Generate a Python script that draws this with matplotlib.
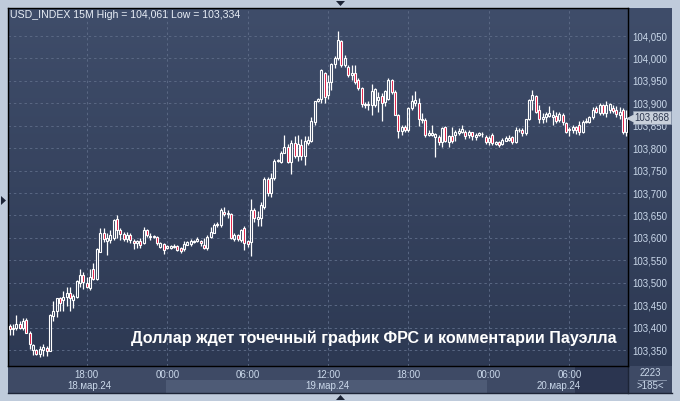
import numpy as np
import matplotlib.pyplot as plt
from matplotlib.colors import LinearSegmentedColormap
from matplotlib.patches import Rectangle, Polygon
from matplotlib.lines import Line2D
from matplotlib.transforms import blended_transform_factory

plt.rcParams['font.family'] = ['Liberation Sans', 'DejaVu Sans']

# 15M candles, USD_INDEX, 18.03 12:15 -> 20.03 10:15
opens = [
    103.404, 103.397, 103.400, 103.409, 103.400, 103.418, 103.389, 103.350, 103.349, 103.342,
    103.349, 103.354, 103.348, 103.426, 103.437, 103.467, 103.461, 103.469, 103.478, 103.461,
    103.469, 103.499, 103.518, 103.499, 103.488, 103.531, 103.508, 103.568, 103.610, 103.593,
    103.595, 103.599, 103.643, 103.617, 103.608, 103.598, 103.606, 103.593, 103.588, 103.594,
    103.588, 103.617, 103.601, 103.604, 103.601, 103.580, 103.586, 103.578, 103.578, 103.581,
    103.581, 103.578, 103.575, 103.585, 103.586, 103.590, 103.592, 103.593, 103.585, 103.578, 103.603,
    103.610, 103.632, 103.629, 103.658, 103.653, 103.653, 103.597, 103.606, 103.595, 103.621,
    103.593, 103.590, 103.663, 103.643, 103.644, 103.668, 103.731, 103.699, 103.733, 103.772,
    103.770, 103.790, 103.802, 103.770, 103.812, 103.782, 103.807, 103.782, 103.812, 103.816,
    103.859, 103.905, 103.910, 103.967, 103.918, 103.948, 103.987, 104.000, 104.039, 103.985,
    103.982, 103.963, 103.967, 103.952, 103.933, 103.899, 103.896, 103.896, 103.896, 103.908,
    103.917, 103.902, 103.910, 103.952, 103.926, 103.875, 103.838, 103.848, 103.840, 103.889,
    103.900, 103.900, 103.862, 103.863, 103.829, 103.830, 103.824, 103.824, 103.814, 103.848,
    103.814, 103.826, 103.830, 103.834, 103.837, 103.837, 103.829, 103.835, 103.824, 103.829,
    103.831, 103.824, 103.814, 103.829, 103.810, 103.813, 103.809, 103.817, 103.818, 103.824,
    103.814, 103.840, 103.841, 103.833, 103.864, 103.907, 103.916, 103.885, 103.866, 103.870,
    103.872, 103.870, 103.872, 103.863, 103.874, 103.857, 103.840, 103.840, 103.848, 103.852,
    103.837, 103.859, 103.859, 103.869, 103.889, 103.878, 103.896, 103.878, 103.885, 103.889,
    103.886, 103.874, 103.885, 103.837,
]
highs = [
    103.409, 103.408, 103.428, 103.415, 103.421, 103.421, 103.392, 103.363, 103.352, 103.359,
    103.363, 103.359, 103.431, 103.460, 103.467, 103.469, 103.481, 103.490, 103.491, 103.475,
    103.505, 103.531, 103.525, 103.512, 103.531, 103.545, 103.578, 103.622, 103.622, 103.611,
    103.617, 103.643, 103.651, 103.622, 103.614, 103.612, 103.610, 103.598, 103.595, 103.600,
    103.624, 103.620, 103.610, 103.606, 103.604, 103.590, 103.588, 103.583, 103.584, 103.586,
    103.585, 103.580, 103.594, 103.593, 103.598, 103.596, 103.603, 103.596, 103.600, 103.606, 103.625,
    103.633, 103.636, 103.666, 103.668, 103.662, 103.655, 103.610, 103.608, 103.620, 103.626,
    103.596, 103.686, 103.667, 103.660, 103.680, 103.735, 103.735, 103.745, 103.775, 103.776,
    103.794, 103.830, 103.810, 103.818, 103.828, 103.830, 103.820, 103.828, 103.826, 103.870,
    103.905, 103.912, 103.976, 103.970, 103.962, 103.989, 104.006, 104.061, 104.041, 104.008,
    103.985, 103.985, 103.985, 103.957, 103.937, 103.903, 103.905, 103.944, 103.935, 103.926,
    103.922, 103.930, 103.956, 103.955, 103.929, 103.877, 103.852, 103.852, 103.892, 103.918,
    103.928, 103.912, 103.878, 103.868, 103.840, 103.851, 103.833, 103.830, 103.848, 103.850,
    103.830, 103.848, 103.841, 103.844, 103.851, 103.840, 103.840, 103.837, 103.833, 103.835,
    103.837, 103.830, 103.826, 103.833, 103.816, 103.816, 103.822, 103.826, 103.829, 103.828,
    103.848, 103.845, 103.845, 103.866, 103.910, 103.930, 103.918, 103.896, 103.878, 103.881,
    103.894, 103.884, 103.881, 103.881, 103.878, 103.859, 103.848, 103.852, 103.850, 103.860,
    103.863, 103.868, 103.872, 103.891, 103.894, 103.900, 103.898, 103.905, 103.900, 103.896,
    103.893, 103.891, 103.889, 103.886,
]
lows = [
    103.384, 103.384, 103.394, 103.396, 103.394, 103.387, 103.352, 103.340, 103.339, 103.335,
    103.337, 103.337, 103.348, 103.415, 103.424, 103.437, 103.437, 103.448, 103.437, 103.443,
    103.467, 103.490, 103.486, 103.488, 103.484, 103.505, 103.506, 103.568, 103.590, 103.562,
    103.588, 103.596, 103.599, 103.596, 103.594, 103.590, 103.588, 103.576, 103.578, 103.577,
    103.586, 103.601, 103.596, 103.600, 103.584, 103.578, 103.565, 103.576, 103.575, 103.577,
    103.570, 103.567, 103.570, 103.583, 103.581, 103.588, 103.590, 103.582, 103.575, 103.574, 103.600,
    103.610, 103.625, 103.625, 103.649, 103.645, 103.597, 103.594, 103.594, 103.590, 103.572,
    103.580, 103.560, 103.636, 103.627, 103.627, 103.665, 103.693, 103.690, 103.730, 103.770,
    103.768, 103.790, 103.766, 103.743, 103.778, 103.772, 103.774, 103.763, 103.806, 103.813,
    103.852, 103.903, 103.900, 103.900, 103.910, 103.930, 103.978, 103.997, 103.982, 103.980,
    103.959, 103.952, 103.942, 103.929, 103.892, 103.889, 103.885, 103.874, 103.892, 103.881,
    103.860, 103.895, 103.907, 103.920, 103.874, 103.823, 103.830, 103.835, 103.835, 103.885,
    103.893, 103.850, 103.855, 103.825, 103.826, 103.828, 103.780, 103.808, 103.803, 103.814,
    103.803, 103.811, 103.817, 103.829, 103.833, 103.820, 103.822, 103.819, 103.818, 103.826,
    103.825, 103.810, 103.807, 103.807, 103.806, 103.803, 103.806, 103.815, 103.815, 103.810,
    103.811, 103.837, 103.827, 103.830, 103.862, 103.885, 103.878, 103.855, 103.855, 103.859,
    103.869, 103.852, 103.855, 103.859, 103.852, 103.833, 103.827, 103.833, 103.832, 103.830,
    103.833, 103.855, 103.855, 103.866, 103.878, 103.875, 103.874, 103.870, 103.878, 103.878,
    103.870, 103.866, 103.831, 103.828,
]
closes = [
    103.397, 103.400, 103.409, 103.400, 103.415, 103.389, 103.364, 103.361, 103.342, 103.352,
    103.357, 103.348, 103.428, 103.437, 103.466, 103.454, 103.469, 103.478, 103.466, 103.471,
    103.503, 103.518, 103.501, 103.491, 103.512, 103.508, 103.575, 103.610, 103.598, 103.600,
    103.606, 103.640, 103.617, 103.608, 103.598, 103.606, 103.595, 103.588, 103.592, 103.585,
    103.618, 103.607, 103.604, 103.603, 103.588, 103.588, 103.574, 103.581, 103.581, 103.580,
    103.574, 103.570, 103.586, 103.590, 103.592, 103.594, 103.597, 103.588, 103.578, 103.603, 103.614,
    103.629, 103.629, 103.662, 103.653, 103.656, 103.599, 103.606, 103.597, 103.617, 103.588,
    103.586, 103.663, 103.644, 103.646, 103.673, 103.731, 103.701, 103.733, 103.772, 103.774,
    103.790, 103.802, 103.770, 103.812, 103.782, 103.810, 103.782, 103.816, 103.818, 103.861,
    103.905, 103.910, 103.974, 103.915, 103.948, 103.987, 104.002, 104.041, 103.985, 104.002,
    103.963, 103.967, 103.948, 103.933, 103.898, 103.896, 103.899, 103.927, 103.932, 103.915,
    103.900, 103.927, 103.952, 103.926, 103.875, 103.838, 103.848, 103.840, 103.889, 103.904,
    103.908, 103.866, 103.865, 103.829, 103.833, 103.833, 103.831, 103.814, 103.846, 103.817,
    103.826, 103.815, 103.837, 103.838, 103.842, 103.827, 103.837, 103.826, 103.829, 103.833,
    103.832, 103.814, 103.822, 103.811, 103.813, 103.807, 103.818, 103.822, 103.822, 103.814,
    103.841, 103.841, 103.833, 103.864, 103.907, 103.918, 103.881, 103.866, 103.870, 103.876,
    103.878, 103.874, 103.861, 103.876, 103.859, 103.837, 103.842, 103.848, 103.840, 103.835,
    103.859, 103.861, 103.869, 103.885, 103.881, 103.896, 103.878, 103.896, 103.898, 103.883,
    103.877, 103.881, 103.837, 103.868,
]

price_ticks = [103.35, 103.40, 103.45, 103.50, 103.55, 103.60, 103.65, 103.70,
               103.75, 103.80, 103.85, 103.90, 103.95, 104.00, 104.05]
time_idx = [23, 47, 71, 95, 119, 143, 167]
time_labels = ['18:00', '00:00', '06:00', '12:00', '18:00', '00:00', '06:00']
date_idx = [23.7, 94.7, 163.9]
date_labels = ['18.мар.24', '19.мар.24', '20.мар.24']
header = 'USD_INDEX 15M High = 104,061 Low = 103,334'
title = 'Доллар ждет точечный график ФРС и комментарии Пауэлла'
last_price = 103.868
bars_total = '2223'
bars_visible = '>185<'

W, H = 680, 401
LBL = '#cad8ea'


def fbox(x0, y0, x1, y1):
    return [x0 / W, 1 - y1 / H, (x1 - x0) / W, (y1 - y0) / H]


def frect(x0, y0, x1, y1, color):
    fig.add_artist(Rectangle((x0 / W, 1 - y1 / H), (x1 - x0) / W, (y1 - y0) / H,
                             transform=fig.transFigure, fc=color, ec='none', zorder=-2))


def ftri(pts, color='#1c2436'):
    fig.add_artist(Polygon([(x / W, 1 - y / H) for x, y in pts], closed=True,
                           transform=fig.transFigure, fc=color, ec='none', zorder=-1))


fig = plt.figure(figsize=(W / 100, H / 100), dpi=100)
fig.patch.set_facecolor('#bfcbdb')
bg = LinearSegmentedColormap.from_list('bg', ['#3f4d6a', '#2d3953'])
grad = np.linspace(0, 1, 256).reshape(-1, 1)

# bottom time strip and corner
frect(8, 366, 672, 393, '#3e4a65')
frect(166, 380, 487, 393, '#4e5b76')
frect(575, 366, 628, 393, '#2b3550')
fig.add_artist(Line2D([8 / W, 672 / W], [1 - 393 / H] * 2, transform=fig.transFigure,
                      color='#1c2436', lw=1, zorder=-1))
fig.add_artist(Line2D([628 / W, 628 / W], [1 - 366 / H, 1 - 393 / H], transform=fig.transFigure,
                      color='#1c2436', lw=1, zorder=-1))
ftri([(336, 1), (345, 1), (340.5, 6)])
ftri([(336, 400), (345, 400), (340.5, 395)])
ftri([(1, 196), (1, 205), (6, 200.5)])

# right price panel
axr = fig.add_axes(fbox(628, 8, 672, 366), zorder=-1)
axr.imshow(grad, cmap=bg, aspect='auto', extent=[0, 1, 0, 1])
axr.axis('off')

ax = fig.add_axes(fbox(8, 8, 628, 366))
ax.imshow(grad, cmap=bg, aspect='auto', extent=[0, 1, 0, 1], transform=ax.transAxes, zorder=0)

o = np.array(opens)
h = np.array(highs)
l = np.array(lows)
c = np.array(closes)
x = np.arange(len(c))
up = c >= o
lo = np.minimum(o, c)
hi = np.maximum(o, c)

ax.vlines(x, l, lo, color='white', lw=0.9, zorder=3)
ax.vlines(x, hi, h, color='white', lw=0.9, zorder=3)
ax.bar(x[up], (hi - lo)[up], bottom=lo[up], width=0.6, facecolor='none',
       edgecolor='white', linewidth=0.8, zorder=3)
ax.bar(x[~up], (hi - lo)[~up], bottom=lo[~up], width=0.6, facecolor='#e0103a',
       edgecolor='white', linewidth=0.8, zorder=3)

ax.set_xlim(-0.5, len(c) - 0.5)
ax.set_ylim(104.05 - 330 / 448.6, 104.05 + 28 / 448.6)

ax.set_axisbelow(True)
ax.set_xticks(time_idx)
ax.set_xticklabels(time_labels)
ax.yaxis.tick_right()
ax.set_yticks(price_ticks)
ax.set_yticklabels([('%.3f' % v).replace('.', ',') for v in price_ticks])
ax.grid(True, color='#5a6884', lw=0.7, linestyle=(0, (2.5, 3)))
ax.tick_params(axis='x', length=0, pad=3.2, labelsize=7, labelcolor=LBL)
ax.tick_params(axis='y', length=0, pad=3, labelsize=7, labelcolor=LBL)
for s in ax.spines.values():
    s.set_color('black')
    s.set_linewidth(1)

tr = blended_transform_factory(ax.transData, ax.transAxes)
for d, lab in zip(date_idx, date_labels):
    ax.text(d, -20 / 358, lab, transform=tr, ha='center', va='center',
            fontsize=7, color=LBL, clip_on=False)

# current price marker
trp = blended_transform_factory(ax.transAxes, ax.transData)
ax.text(1.01, last_price, ('%.3f' % last_price).replace('.', ','), transform=trp,
        ha='left', va='center', fontsize=7, color='#2c374f', clip_on=False, zorder=6,
        bbox=dict(boxstyle='square,pad=0.15', fc='#c8d0db', ec='#8e9bb0', lw=0.5))
ax.plot([1.004], [last_price], marker='<', ms=4, color='#c8d0db', transform=trp,
        clip_on=False, zorder=6)

fig.text(10 / W, 1 - 18 / H, header, fontsize=7.6, color='#e8eef6', va='baseline')
fig.text(617 / W, 1 - 343 / H, title, fontsize=11.65, fontweight='bold', color='white',
         ha='right', va='baseline')

fig.text(650 / W, 1 - 373 / H, bars_total, fontsize=7, color=LBL, ha='center', va='center')
fig.text(650 / W, 1 - 386 / H, bars_visible, fontsize=7, color=LBL, ha='center', va='center')
fig.add_artist(Line2D([638 / W, 666 / W], [1 - 379.5 / H] * 2, transform=fig.transFigure,
                      color='#8f9cb2', lw=0.6))

fig.savefig('out.png', dpi=100, facecolor=fig.get_facecolor())
